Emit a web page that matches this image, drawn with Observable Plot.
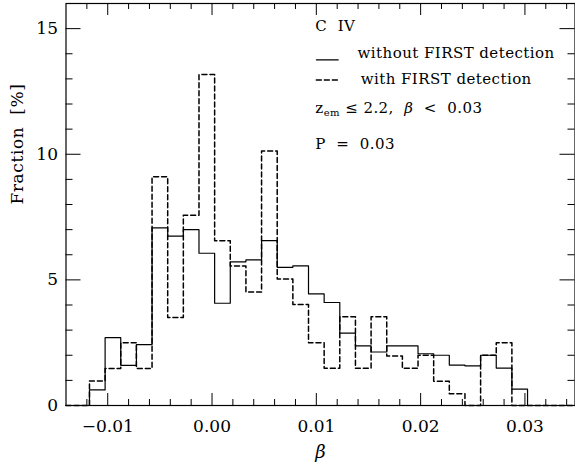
<!DOCTYPE html>
<html>
<head>
<meta charset="utf-8">
<script src="https://cdn.jsdelivr.net/npm/d3@7"></script>
<script src="https://cdn.jsdelivr.net/npm/@observablehq/plot@0.6"></script>
<style>
  html, body { margin: 0; padding: 0; background: white; }
</style>
</head>
<body>
<div id="chart"></div>
<script>
// ---- data ----
const binStart = -0.01175;
const binWidth = 0.0015;
const withoutFirst = [0.62, 2.70, 1.60, 2.42, 7.07, 6.74, 7.00, 6.06, 4.07, 5.72, 5.80, 6.56, 5.50, 5.56,
                      4.44, 4.10, 2.88, 2.37, 2.13, 2.37, 2.37, 2.06, 2.00, 1.61, 1.58, 2.00, 1.49, 0.65];
const withFirst    = [0.98, 1.47, 2.50, 1.47, 9.10, 3.50, 7.57, 13.17, 6.56, 5.55, 4.52, 10.13, 5.03, 4.02,
                      2.50, 1.48, 3.53, 1.48, 3.53, 1.97, 1.48, 2.00, 0.97, 0.47, 0.00, 2.00, 2.50, 0.00];
const xTicksMajor = [-0.01, 0.00, 0.01, 0.02, 0.03];
const xTicksMinor = [-0.012, -0.008, -0.006, -0.004, -0.002, 0.002, 0.004, 0.006, 0.008,
                     0.012, 0.014, 0.016, 0.018, 0.022, 0.024, 0.026, 0.028, 0.032, 0.034];
const yTicksMajor = [0, 5, 10, 15];
const yTicksMinor = [1, 2, 3, 4, 6, 7, 8, 9, 11, 12, 13, 14];
const legendTitle = "C IV";
const seriesNames = ["without FIRST detection", "with FIRST detection"];
const conditionText = "zem ≤ 2.2,  β < 0.03";
const pText = "P = 0.03";

// ---- layout ----
const W = 575, H = 463;
const mL = 65.5, mR = 0.5, mT = 3, mB = 58;
const xDomain = [-0.014, 0.0348];
const yDomain = [0, 16];
const fw = W - mL - mR, fh = H - mT - mB;

function outline(vals) {
  const pts = [{x: xDomain[0], y: 0}];
  vals.forEach((v, i) => pts.push({x: binStart + i * binWidth, y: v}));
  pts.push({x: binStart + vals.length * binWidth, y: 0});
  pts.push({x: xDomain[1], y: 0});
  return pts;
}

// legend anchor positions (data coordinates)
const lx = 0.0099;
const legendRows = [
  {x: lx, y: 14.9, t: legendTitle},
  {x: 0.01395, y: 13.82, t: seriesNames[0]},
  {x: 0.01425, y: 12.78, t: seriesNames[1]},
  {x: lx, y: 11.66, t: conditionText},
  {x: lx, y: 10.22, t: pText}
];
const solidSample = [{x: 0.0100, y: 13.76}, {x: 0.0121, y: 13.76}];
const dashedSample = [{x: 0.0100, y: 12.96}, {x: 0.0121, y: 12.96}];

const fontFam = "'DejaVu Serif', serif";

const chart = Plot.plot({
  width: W, height: H,
  marginLeft: mL, marginRight: mR, marginTop: mT, marginBottom: mB,
  style: {fontFamily: fontFam, fontSize: "16px", color: "black", background: "white"},
  x: {domain: xDomain, axis: null},
  y: {domain: yDomain, axis: null},
  marks: [
    // histograms
    Plot.line(outline(withoutFirst), {x: "x", y: "y", curve: "step-after", stroke: "black", strokeWidth: 1.2}),
    Plot.line(outline(withFirst), {x: "x", y: "y", curve: "step-after", stroke: "black", strokeWidth: 1.5, strokeDasharray: "5,3"}),
    // frame
    Plot.frame({stroke: "black", strokeWidth: 1.2}),
    // x ticks (bottom and top, inward)
    Plot.ruleX(xTicksMajor, {stroke: "black", insetTop: fh - 12}),
    Plot.ruleX(xTicksMajor, {stroke: "black", insetBottom: fh - 12}),
    Plot.ruleX(xTicksMinor, {stroke: "black", insetTop: fh - 6}),
    Plot.ruleX(xTicksMinor, {stroke: "black", insetBottom: fh - 6}),
    // y ticks (left and right, inward)
    Plot.ruleY(yTicksMajor, {stroke: "black", insetRight: fw - 15}),
    Plot.ruleY(yTicksMajor, {stroke: "black", insetLeft: fw - 15}),
    Plot.ruleY(yTicksMinor, {stroke: "black", insetRight: fw - 7}),
    Plot.ruleY(yTicksMinor, {stroke: "black", insetLeft: fw - 7}),
    // tick labels
    Plot.axisX({ticks: xTicksMajor, tickSize: 0, tickPadding: 14, tickFormat: d3.format(".2f"), label: null, fontSize: 17}),
    Plot.axisY({ticks: yTicksMajor, tickSize: 0, tickPadding: 8, label: null, fontSize: 17}),
    // axis titles
    Plot.text(["β"], {frameAnchor: "bottom", dy: 52, lineAnchor: "bottom", fontStyle: "italic", fontSize: 18}),
    Plot.text(["Fraction [%]"], {frameAnchor: "left", dx: -48, rotate: -90, fontSize: 17}),
    // legend
    Plot.line(solidSample, {x: "x", y: "y", stroke: "black", strokeWidth: 1.2}),
    Plot.line(dashedSample, {x: "x", y: "y", stroke: "black", strokeWidth: 1.5, strokeDasharray: "5,3"}),
    Plot.text(legendRows, {x: "x", y: "y", text: "t", textAnchor: "start", lineAnchor: "bottom", fontSize: 15})
  ]
});

// letter spacing / subscript / italic formatting
chart.querySelectorAll("text").forEach(t => {
  const s = t.textContent;
  if (seriesNames.includes(s) || s === legendTitle || s === pText || s === conditionText) {
    t.style.letterSpacing = "0.45px";
    t.style.whiteSpace = "pre";
  }
  if (s === "Fraction [%]") { t.style.letterSpacing = "0.6px"; t.style.whiteSpace = "pre"; t.textContent = "Fraction  [%]"; }
  if (s === legendTitle) t.textContent = "C  IV";
  if (s === conditionText) {
    while (t.firstChild) t.removeChild(t.firstChild);
    const ns = "http://www.w3.org/2000/svg";
    const add = (str, attrs = {}) => {
      const ts = document.createElementNS(ns, "tspan");
      ts.textContent = str;
      for (const k in attrs) ts.setAttribute(k, attrs[k]);
      t.appendChild(ts);
      return ts;
    };
    add("z");
    add("em", {"font-size": "10", "dy": "3"});
    add(" ≤ 2.2,  ", {"dy": "-3"});
    add("β", {"font-style": "italic"});
    add("  <  0.03");
  }
  if (s === pText) t.textContent = "P  =  0.03";
});

document.getElementById("chart").appendChild(chart);
</script>
</body>
</html>
